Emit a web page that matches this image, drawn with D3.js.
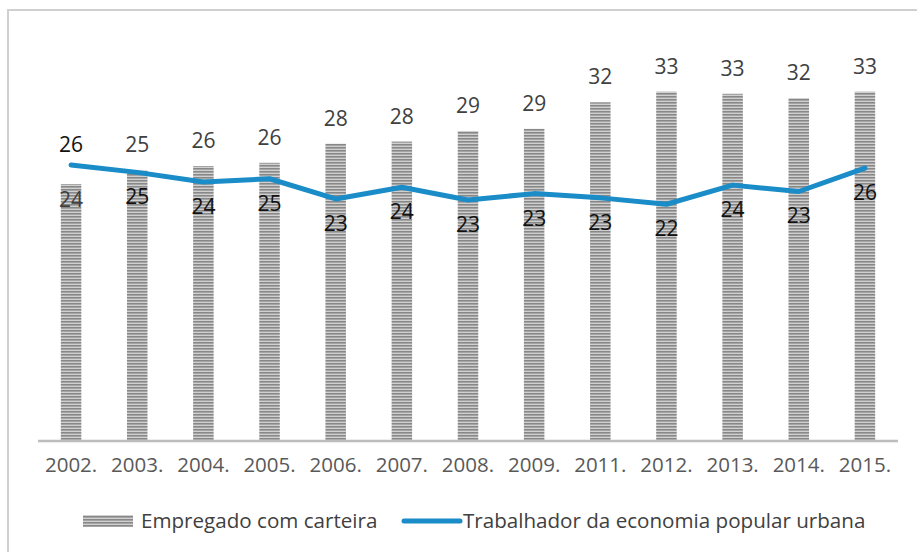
<!DOCTYPE html>
<html>
<head>
<meta charset="utf-8">
<script src="https://cdn.jsdelivr.net/npm/d3@7"></script>
<style>
  body { margin: 0; background: #fff; }
  svg { display: block; }
  text { font-family: "Open Sans", sans-serif; }
</style>
</head>
<body>
<script>
// data
var years = ["2002.", "2003.", "2004.", "2005.", "2006.", "2007.", "2008.", "2009.", "2011.", "2012.", "2013.", "2014.", "2015."];
var empregado = [24.1, 25.4, 25.8, 26.1, 27.9, 28.1, 29.1, 29.3, 31.8, 32.8, 32.6, 32.2, 32.8];
var trabalhador = [25.9, 25.2, 24.3, 24.6, 22.7, 23.8, 22.6, 23.2, 22.8, 22.2, 24.0, 23.4, 25.6];
var seriesNames = ["Empregado com carteira", "Trabalhador da economia popular urbana"];

var width = 917, height = 552;
var lineColor = "#1a8cc8";

var svg = d3.select("body").append("svg")
    .attr("width", width)
    .attr("height", height);

// stripe pattern for the bars
var defs = svg.append("defs");
var pat = defs.append("pattern")
    .attr("id", "stripes")
    .attr("patternUnits", "userSpaceOnUse")
    .attr("width", 4).attr("height", 3);
pat.append("rect").attr("width", 4).attr("height", 3).attr("fill", "#d0d0d0");
pat.append("rect").attr("width", 4).attr("height", 1.6).attr("fill", "#888");

// chart frame
svg.append("rect")
    .attr("x", 8).attr("y", 10)
    .attr("width", width + 20).attr("height", height + 20)
    .attr("fill", "none")
    .attr("stroke", "#d0d0d0")
    .attr("stroke-width", 2);

var x = d3.scaleBand()
    .domain(years)
    .range([38, 898])
    .paddingInner(0.69)
    .paddingOuter(0.345);

var y = d3.scaleLinear()
    .domain([0, 40])
    .range([440, 15.2]);

var cx = function(d, i) { return x(years[i]) + x.bandwidth() / 2; };

// bars
svg.selectAll("rect.bar")
    .data(empregado)
  .enter().append("rect")
    .attr("class", "bar")
    .attr("x", function(d, i) { return x(years[i]); })
    .attr("y", function(d) { return y(d); })
    .attr("width", x.bandwidth())
    .attr("height", function(d) { return y(0) - y(d); })
    .attr("fill", "url(#stripes)");

// x axis
var xAxis = svg.append("g")
    .attr("transform", "translate(0," + 441 + ")")
    .call(d3.axisBottom(x).tickSize(0).tickPadding(16));
xAxis.select(".domain")
    .attr("d", "M38,0H898")
    .attr("stroke", "#bdbdbd")
    .attr("stroke-width", 2.5);
xAxis.selectAll("text")
    .attr("fill", "#595959")
    .style("font-size", "20.5px")
    .style("font-family", "'Open Sans', sans-serif");

// line
var line = d3.line()
    .x(function(d, i) { return cx(d, i); })
    .y(function(d) { return y(d); });

svg.append("path")
    .datum(trabalhador)
    .attr("d", line)
    .attr("fill", "none")
    .attr("stroke", lineColor)
    .attr("stroke-width", 5)
    .attr("stroke-linejoin", "round")
    .attr("stroke-linecap", "round");

// labels: when the line is above the bar, swap sides
svg.selectAll("text.barlabel")
    .data(empregado)
  .enter().append("text")
    .attr("class", "barlabel")
    .attr("x", cx)
    .attr("y", function(d, i) { return trabalhador[i] > d ? y(d) + 23 : y(d) - 18; })
    .attr("text-anchor", "middle")
    .attr("fill", "#404040")
    .style("font-size", "21px")
    .text(function(d) { return Math.round(d); });

svg.selectAll("text.linelabel")
    .data(trabalhador)
  .enter().append("text")
    .attr("class", "linelabel")
    .attr("x", cx)
    .attr("y", function(d, i) { return d > empregado[i] ? y(d) - 13 : y(d) + 32; })
    .attr("text-anchor", "middle")
    .attr("fill", "#111")
    .style("font-size", "21px")
    .text(function(d) { return Math.round(d); });

// legend
var legend = svg.append("g");
legend.append("rect")
    .attr("x", 83).attr("y", 515)
    .attr("width", 50).attr("height", 12)
    .attr("fill", "url(#stripes)");
legend.append("text")
    .attr("x", 141).attr("y", 528)
    .attr("fill", "#404040")
    .style("font-size", "20.6px")
    .text(seriesNames[0]);
legend.append("line")
    .attr("x1", 404).attr("x2", 460)
    .attr("y1", 521).attr("y2", 521)
    .attr("stroke", lineColor)
    .attr("stroke-width", 5)
    .attr("stroke-linecap", "round");
legend.append("text")
    .attr("x", 463).attr("y", 528)
    .attr("fill", "#404040")
    .style("font-size", "20.6px")
    .text(seriesNames[1]);
</script>
</body>
</html>
